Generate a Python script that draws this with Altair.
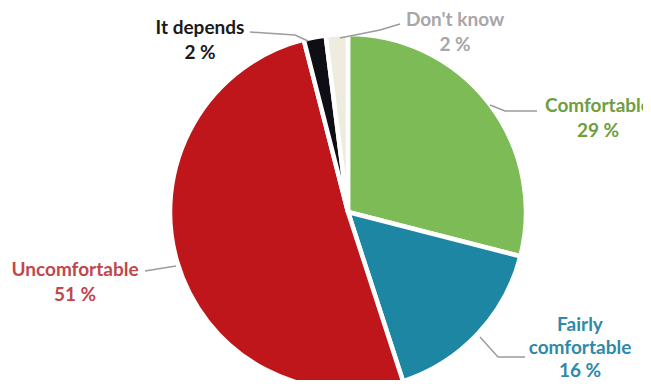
import altair as alt
import pandas as pd

# ---- data ----
categories = ["Comfortable", "Fairly comfortable", "Uncomfortable", "It depends", "Don't know"]
values = [29, 16, 51, 2, 2]
label_lines = [["Comfortable"], ["Fairly", "comfortable"], ["Uncomfortable"], ["It depends"], ["Don't know"]]

# ---- styles / layout ----
slice_colors = ["#7dbb57", "#1c86a3", "#bf161b", "#0e0e14", "#eeebdf"]
text_colors = ["#6e9e40", "#2e8aa8", "#c0474c", "#1a1a1a", "#a9a5a9"]
W, H = 635, 372
CX, CY, R = 340, 204, 178
# label anchor (center x, first baseline y) in plot pixels
label_pos = [(590, 104), (572, 323), (67, 268), (192, 26), (447, 18)]
line_gaps = [25, 23, 25, 25, 25]
# leader lines (plot pixels)
leaders = [
    [(482, 97), (497, 103), (529, 103)],
    [(472, 329), (490, 349), (517, 349)],
    [(137, 263), (168, 258)],
    [(242, 24), (287, 27), (300, 33)],
    [(332, 30), (372, 22), (392, 16)],
]

pie_df = pd.DataFrame({
    "category": categories,
    "value": values,
    "idx": list(range(len(categories))),
})

rows = []
for i, cat in enumerate(categories):
    x0, y0 = label_pos[i]
    lines = label_lines[i] + [f"{values[i]} %"]
    for j, t in enumerate(lines):
        rows.append({"tx": x0, "ty": y0 + j * line_gaps[i], "txt": t, "tc": text_colors[i]})
text_df = pd.DataFrame(rows)

lrows = []
for i, pts in enumerate(leaders):
    for k, (px, py) in enumerate(pts):
        lrows.append({"lid": i, "pt": k, "lx": px, "ly": py})
line_df = pd.DataFrame(lrows)

xs = alt.Scale(domain=[0, W], range=[0, W])
ys = alt.Scale(domain=[0, H], range=[0, H])

pie = alt.Chart(pie_df).mark_arc(radius=R, stroke="white", strokeWidth=4.5).encode(
    theta=alt.Theta("value:Q", stack=True),
    color=alt.Color("category:N", scale=alt.Scale(domain=categories, range=slice_colors), legend=None),
    order=alt.Order("idx:Q"),
    x=alt.value(CX),
    y=alt.value(CY),
)

leader = alt.Chart(line_df).mark_line(color="#9c9c9c", strokeWidth=1.5).encode(
    x=alt.X("lx:Q", scale=xs, axis=None),
    y=alt.Y("ly:Q", scale=ys, axis=None),
    detail="lid:N",
    order="pt:Q",
)

labels = alt.Chart(text_df).mark_text(
    font="Lato", fontWeight="bold", fontSize=19, align="center", baseline="alphabetic"
).encode(
    x=alt.X("tx:Q", scale=xs, axis=None),
    y=alt.Y("ty:Q", scale=ys, axis=None),
    text="txt:N",
    color=alt.Color("tc:N", scale=None),
)

chart = alt.layer(pie, leader, labels).properties(
    width=W, height=H, padding=0, autosize=alt.AutoSizeParams(type="none"), background="white"
).configure_view(stroke=None)

chart.save("out.html", embed_options={"renderer": "svg", "actions": False})
